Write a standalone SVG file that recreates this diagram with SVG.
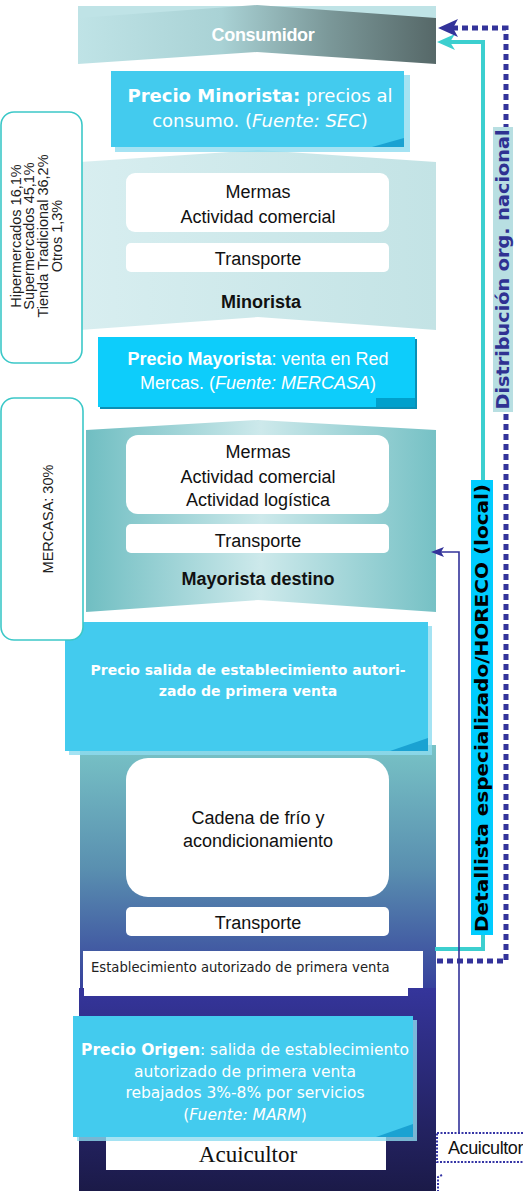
<svg xmlns="http://www.w3.org/2000/svg" width="523" height="1191" viewBox="0 0 523 1191">
<defs>
<linearGradient id="gCons" x1="0" y1="0" x2="1" y2="0">
<stop offset="0" stop-color="#bfe3e6"/><stop offset="0.4" stop-color="#a9d2d5"/><stop offset="0.7" stop-color="#7b9899"/><stop offset="1" stop-color="#566868"/>
</linearGradient>
<linearGradient id="gMin" x1="0" y1="0" x2="1" y2="0">
<stop offset="0" stop-color="#d8eef0"/><stop offset="1" stop-color="#c3e3e5"/>
</linearGradient>
<linearGradient id="gMay" x1="0" y1="0" x2="1" y2="0">
<stop offset="0" stop-color="#70bec2"/><stop offset="0.5" stop-color="#cde9eb"/><stop offset="1" stop-color="#76c1c5"/>
</linearGradient>
<linearGradient id="gCad" x1="0" y1="0" x2="0" y2="1">
<stop offset="0" stop-color="#78c3c6"/><stop offset="0.5" stop-color="#5a90b0"/><stop offset="1" stop-color="#36409c"/>
</linearGradient>
<linearGradient id="gAcu" x1="0" y1="0" x2="0" y2="1">
<stop offset="0" stop-color="#35359b"/><stop offset="1" stop-color="#1b1a48"/>
</linearGradient>
<marker id="arTeal" markerUnits="userSpaceOnUse" markerWidth="20" markerHeight="18" viewBox="0 0 20 18" refX="8" refY="9" orient="auto">
<path d="M0,1 L18,9 L0,17 L5,9 z" fill="#3ccfcf"/>
</marker>
<marker id="arBlue" markerUnits="userSpaceOnUse" markerWidth="22" markerHeight="20" viewBox="0 0 22 20" refX="10" refY="10" orient="auto">
<path d="M0,1 L20,10 L0,19 L5,10 z" fill="#33339a"/>
</marker>
<marker id="arThin" markerUnits="userSpaceOnUse" markerWidth="14" markerHeight="12" viewBox="0 0 14 12" refX="4" refY="6" orient="auto">
<path d="M0,1 L13,6 L0,11 L3,6 z" fill="#33339a"/>
</marker>
<style>
.t{font-family:"Liberation Sans",Arial,sans-serif;font-size:18px;fill:#111;text-anchor:middle}
.b{font-weight:bold}
.wb{fill:#fff}
.v{font-family:"DejaVu Sans",Verdana,sans-serif;fill:#fff;text-anchor:middle}
.pbox{fill:#43cbee}
.pshadow{fill:#8fdcf0;opacity:0.8}
.fold{fill:#1aa2d2}
.side{font-family:"Liberation Sans",Arial,sans-serif;font-size:14.5px;fill:#222;text-anchor:middle}
.sidebox{fill:#fff;stroke:#3cc8c8;stroke-width:1.6}
.wbox{fill:#fff}
.lbl{font-family:"DejaVu Sans",Verdana,sans-serif;font-weight:bold;font-size:17px;text-anchor:middle}
</style>
</defs>

<g id="band-consumidor">
<rect x="78" y="6" width="358" height="14" fill="#bfe3e6"/>
<polygon points="78,18 257,5 436,18 436,64 257,52 78,64" fill="url(#gCons)"/>
<text class="t b wb" x="263" y="41" font-size="18" letter-spacing="-0.3">Consumidor</text>
</g>

<g id="band-minorista">
<polygon points="80,162 258,150 436,162 436,330 258,317 80,330" fill="url(#gMin)"/>
<rect class="wbox" x="126" y="173" width="263" height="59" rx="9"/>
<text class="t" x="258" y="198">Mermas</text>
<text class="t" x="258" y="223">Actividad comercial</text>
<rect class="wbox" x="126" y="243" width="263" height="29" rx="5"/>
<text class="t" x="258" y="265">Transporte</text>
<text class="t b" x="261" y="308">Minorista</text>
</g>

<g id="band-mayorista">
<polygon points="86,430 258,420 436,430 436,612 258,600 86,612" fill="url(#gMay)"/>
<rect class="wbox" x="126" y="435" width="263" height="79" rx="12"/>
<text class="t" x="258" y="458">Mermas</text>
<text class="t" x="258" y="483">Actividad comercial</text>
<text class="t" x="258" y="506">Actividad logística</text>
<rect class="wbox" x="126" y="524" width="263" height="29" rx="5"/>
<text class="t" x="258" y="547">Transporte</text>
<text class="t b" x="258" y="585">Mayorista destino</text>
</g>

<g id="band-cadena">
<rect x="80" y="745" width="356" height="245" fill="url(#gCad)"/>
<rect class="wbox" x="126" y="758" width="263" height="139" rx="22"/>
<text class="t" x="258" y="824">Cadena de frío y</text>
<text class="t" x="258" y="847">acondicionamiento</text>
<rect class="wbox" x="126" y="907" width="263" height="29" rx="5"/>
<text class="t" x="258" y="929">Transporte</text>
</g>

<g id="band-acuicultor">
<rect x="79" y="988" width="357" height="203" fill="url(#gAcu)"/>
<rect x="84" y="985" width="324" height="11" fill="#fff"/>
<rect class="wbox" x="106" y="1130" width="280" height="40"/>
<text x="248" y="1162" font-family="'Liberation Serif','Times New Roman',serif" font-size="23" fill="#111" text-anchor="middle">Acuicultor</text>
</g>

<g id="establecimiento">
<rect class="wbox" x="83" y="951" width="340" height="37"/>
<text x="91" y="972" font-family="'DejaVu Sans',Verdana,sans-serif" font-size="13.2" fill="#222">Establecimiento autorizado de primera venta</text>
</g>

<g id="precio-minorista">
<rect class="pshadow" x="115" y="75" width="295" height="77"/>
<rect class="pbox" x="111" y="71" width="293" height="76"/>
<polygon class="fold" points="372,147 404,138 404,147"/>
<text class="v" x="260" y="102" font-size="18"><tspan font-weight="bold">Precio Minorista:</tspan> precios al</text>
<text class="v" x="260" y="127" font-size="18">consumo. (<tspan font-style="italic">Fuente: SEC</tspan>)</text>
</g>

<g id="precio-mayorista">
<rect x="100" y="339" width="317" height="70" fill="#0a8fb5"/>
<rect x="98" y="337" width="317" height="70" fill="#0dcdfb"/>
<rect x="376" y="398" width="39" height="9" fill="#00a0cc"/>
<text class="t wb" x="258" y="365"><tspan font-weight="bold">Precio Mayorista</tspan>: venta en Red</text>
<text class="t wb" x="258" y="389">Mercas. (<tspan font-style="italic">Fuente: MERCASA</tspan>)</text>
</g>

<g id="precio-salida">
<rect class="pshadow" x="69" y="626" width="363" height="129"/>
<rect class="pbox" x="65" y="622" width="363" height="129"/>
<polygon class="fold" points="390,751 428,738 428,751"/>
<text class="v b" x="248" y="675" font-size="14">Precio salida de establecimiento autori-</text>
<text class="v b" x="248" y="696" font-size="14">zado de primera venta</text>
</g>

<g id="precio-origen">
<rect class="pshadow" x="77" y="1020" width="340" height="121"/>
<rect class="pbox" x="73" y="1016" width="340" height="121"/>
<polygon class="fold" points="376,1137 413,1124 413,1137"/>
<text class="v" x="245" y="1055" font-size="15.5"><tspan font-weight="bold">Precio Origen</tspan>: salida de establecimiento</text>
<text class="v" x="245" y="1077" font-size="15.5">autorizado de primera venta</text>
<text class="v" x="245" y="1098" font-size="15.5">rebajados 3%-8% por servicios</text>
<text class="v" x="245" y="1120" font-size="15.5">(<tspan font-style="italic">Fuente: MARM</tspan>)</text>
</g>

<g id="cuota-minorista">
<rect class="sidebox" x="1" y="112" width="81" height="251" rx="13"/>
<g transform="translate(36,236) rotate(-90)">
<text class="side" x="0" y="-15.5">Hipermercados 16,1%</text>
<text class="side" x="0" y="-1.8">Supermercados 45,1%</text>
<text class="side" x="0" y="11.9">Tienda Tradicional 36,2%</text>
<text class="side" x="0" y="25.6">Otros 1,3%</text>
</g>
</g>

<g id="cuota-mayorista">
<rect class="sidebox" x="1" y="398" width="82" height="242" rx="13"/>
<text class="side" transform="translate(53,519) rotate(-90)" x="0" y="0" font-size="14">MERCASA:  30%</text>
</g>

<g id="connectors">
<path d="M435,949 H483 V42 H447" fill="none" stroke="#3ccfcf" stroke-width="4" marker-end="url(#arTeal)"/>
<path d="M437,961 H506 V28 H448" fill="none" stroke="#33339a" stroke-width="5" stroke-dasharray="6 4" marker-end="url(#arBlue)"/>
<path d="M459,1133 V552 H440" fill="none" stroke="#33339a" stroke-width="1.6" marker-end="url(#arThin)"/>
<path d="M442,1175 L438,1177 V1191" fill="none" stroke="#3535a5" stroke-width="2" stroke-dasharray="2 1.5"/>
</g>

<g id="label-nacional">
<rect x="493" y="127" width="20" height="285" fill="#b8dfe2"/>
<text class="lbl" transform="translate(509,269.5) rotate(-90)" x="0" y="0" fill="#2f3192" textLength="280" lengthAdjust="spacingAndGlyphs">Distribución org. nacional</text>
</g>

<g id="label-local">
<rect x="471" y="480" width="22" height="455" fill="#00ccff"/>
<text class="lbl" transform="translate(488,708) rotate(-90)" x="0" y="0" fill="#000" textLength="448" lengthAdjust="spacingAndGlyphs">Detallista especializado/HORECO (local)</text>
</g>

<g id="acuicultor-local">
<rect x="437" y="1133" width="100" height="29" fill="#fff" stroke="#3535a5" stroke-width="2" stroke-dasharray="2 1.5"/>
<text x="448" y="1154" font-family="'Liberation Sans',Arial,sans-serif" font-size="18" fill="#111" letter-spacing="-0.4">Acuicultor</text>
</g>
</svg>
